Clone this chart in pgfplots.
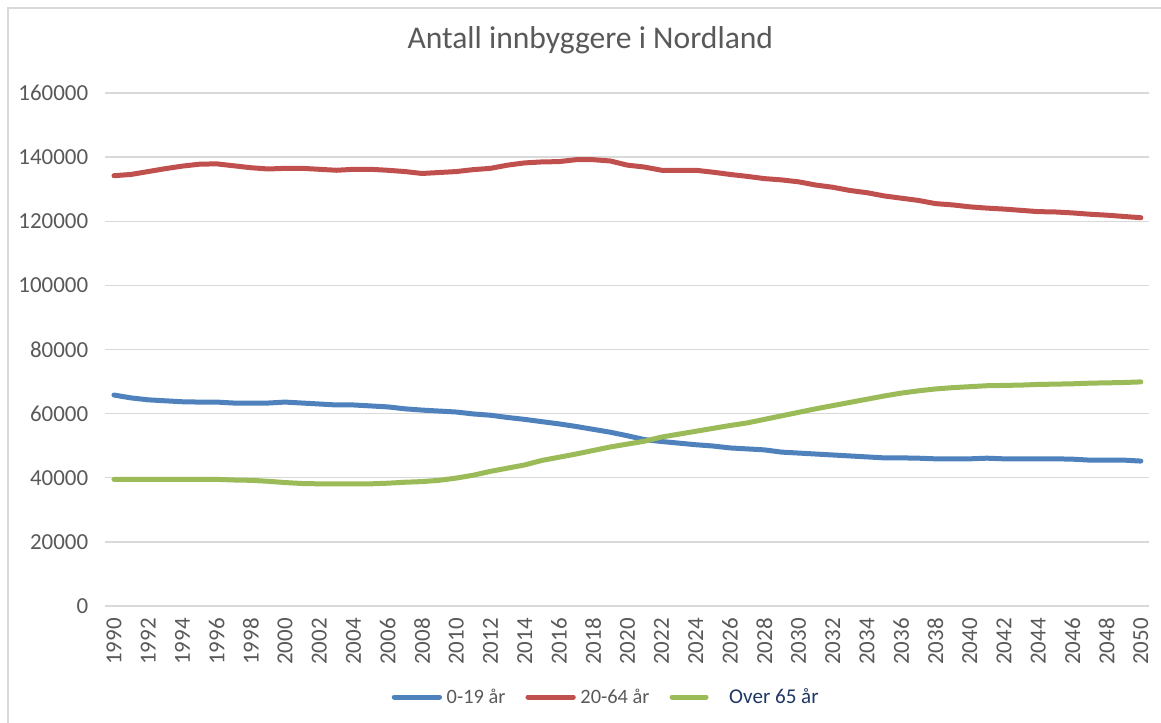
\documentclass[border=0pt]{standalone}
\usepackage{fontspec}
\setmainfont{Carlito}
\usepackage{pgfplots}
\usepackage{pgfplotstable}
\pgfplotsset{compat=1.18}

\definecolor{ser1}{HTML}{4F81BD}
\definecolor{ser2}{HTML}{C0504D}
\definecolor{ser3}{HTML}{9BBB59}
\definecolor{txtgray}{HTML}{595959}
\definecolor{gridgray}{HTML}{D9D9D9}
\definecolor{navytxt}{HTML}{1F3864}

% year, 0-19, 20-64, 65+
\pgfplotstableread{
year  a      b       c
1990  65800  134200  39500
1991  64900  134600  39500
1992  64300  135500  39500
1993  64000  136400  39500
1994  63700  137200  39500
1995  63600  137800  39500
1996  63600  137900  39500
1997  63300  137300  39300
1998  63300  136700  39200
1999  63300  136300  38900
2000  63600  136500  38500
2001  63300  136500  38200
2002  63000  136200  38100
2003  62700  135900  38100
2004  62700  136200  38100
2005  62400  136200  38100
2006  62100  135900  38300
2007  61500  135500  38600
2008  61100  134900  38800
2009  60800  135200  39200
2010  60500  135500  39900
2011  59900  136100  40800
2012  59500  136500  42000
2013  58800  137500  43000
2014  58200  138200  44000
2015  57500  138500  45400
2016  56800  138600  46400
2017  56000  139200  47400
2018  55100  139200  48500
2019  54200  138800  49600
2020  53100  137500  50500
2021  51900  136900  51400
2022  51300  135900  52700
2023  50800  135900  53600
2024  50300  135900  54500
2025  49900  135300  55400
2026  49300  134600  56300
2027  49000  134000  57100
2028  48700  133300  58200
2029  48000  132900  59300
2030  47700  132300  60400
2031  47400  131300  61500
2032  47100  130600  62500
2033  46800  129600  63500
2034  46500  128900  64500
2035  46200  127900  65500
2036  46200  127200  66400
2037  46100  126500  67100
2038  45900  125500  67700
2039  45900  125100  68100
2040  45900  124500  68400
2041  46100  124100  68700
2042  45900  123800  68800
2043  45900  123400  68900
2044  45900  123000  69100
2045  45900  122900  69200
2046  45800  122600  69300
2047  45500  122200  69500
2048  45500  121900  69600
2049  45500  121500  69700
2050  45200  121100  69900
}\datatable

\begin{document}
\begin{tikzpicture}
\begin{axis}[
  name=ax,
  scale only axis,
  width=783pt,
  height=384.75pt,
  xmin=1989.5, xmax=2050.5,
  ymin=0, ymax=160000,
  xtick={1990,1992,...,2050},
  ytick={0,20000,...,160000},
  scaled y ticks=false,
  scaled x ticks=false,
  tick label style={font=\fontsize{17.2}{20}\selectfont, text=txtgray,
    /pgf/number format/fixed, /pgf/number format/1000 sep={},
    /pgf/number format/assume math mode=true},
  axis line style={draw=none},
  major tick length=0pt,
  ymajorgrids,
  grid style={gridgray, line width=1.1pt},
  yticklabel style={anchor=east, inner sep=0pt, xshift=-12.75pt},
  xticklabel style={rotate=90, anchor=east, inner sep=0pt, xshift=-9pt},
  title={Antall innbyggere i Nordland},
  title style={at={(axis description cs:0.4645,1)}, anchor=center, yshift=33.75pt,
    font=\fontsize{23.7}{28}\selectfont, text=txtgray},
  legend columns=3,
  legend style={at={(axis description cs:0.48,0)}, anchor=center, yshift=-68.25pt,
    draw=none, fill=none, font=\fontsize{15.3}{18}\selectfont, text=txtgray,
    inner sep=0pt,
    /tikz/every odd column/.style={column sep=1.5pt},
    /tikz/every even column/.style={column sep=13pt}},
  legend image code/.code={\draw[#1, line width=3.75pt, line cap=round] (0pt,0pt) -- (34pt,0pt);},
  every axis plot/.append style={line width=3.75pt, line cap=round, line join=round},
]
\addplot[ser1, no marks] table[x=year, y=a] {\datatable};
\addlegendentry{0-19 år}
\addplot[ser2, no marks] table[x=year, y=b] {\datatable};
\addlegendentry{20-64 år}
\addplot[ser3, no marks,
  legend image code/.code={\draw[ser3, line width=3.75pt] (0pt,0pt) -- (25.5pt,0pt);}]
  table[x=year, y=c] {\datatable};
\addlegendentry{\hspace*{12pt}\textcolor{navytxt}{\fontsize{15.8}{18}\selectfont Over 65 år}}
\end{axis}
\path[use as bounding box] (ax.south west) ++(-79.05pt,-87pt) rectangle ++(870.75pt,541.5pt);
\draw[gridgray, line width=1.5pt] (ax.south west) ++(-73.05pt,-200pt) -- ++(0pt,648.5pt) -- ++(1000pt,0pt);
\end{tikzpicture}
\end{document}
